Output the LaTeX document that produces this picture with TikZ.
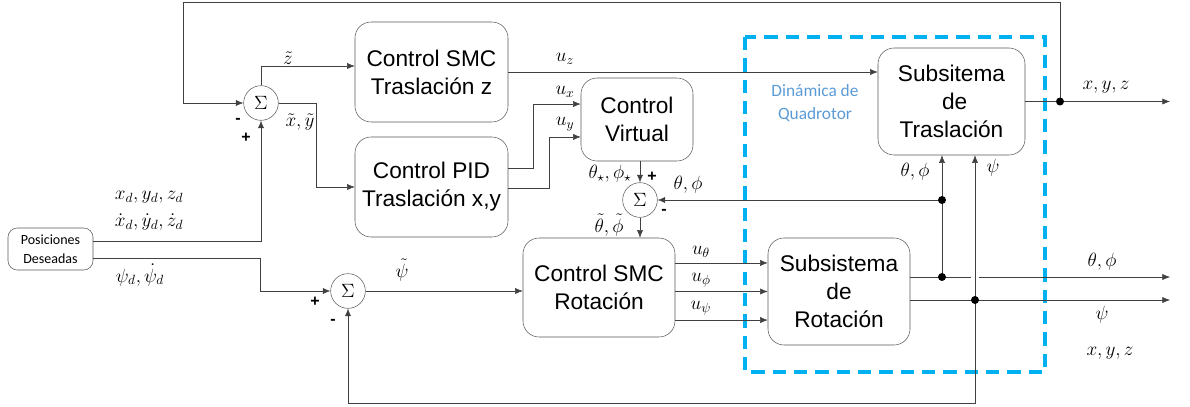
\documentclass[tikz,border=0pt]{standalone}
\usepackage{fontspec}
\newfontfamily\boxfont{Liberation Sans}
\newfontfamily\calfont{Carlito}
\usetikzlibrary{arrows.meta}

\begin{document}
\begin{tikzpicture}[x=0.75pt,y=-0.75pt,
    bloque/.style={draw=black!65,rounded corners=12pt,align=center,
        font=\boxfont\fontsize{17}{21}\selectfont,inner sep=0pt},
    suma/.style={draw=black!65,circle,minimum size=26pt,inner sep=0pt,font=\Large},
    flecha/.style={draw=black!75,-{Latex[length=2mm,width=1.6mm]}},
    etiq/.style={font=\Large,inner sep=1pt},
    signo/.style={font=\boxfont\bfseries\fontsize{12}{12}\selectfont,inner sep=1pt}]
        \definecolor{cyanq}{RGB}{0,176,240}
        \definecolor{azultxt}{RGB}{91,155,213}

        \useasboundingbox (0,0) rectangle (1190,407);

        % dinamica del quadrotor
        \draw[cyanq,line width=3pt,dash pattern=on 10pt off 6pt]
            (745,37) rectangle (1045,372);
        \node[font=\calfont\fontsize{13}{17}\selectfont,text=azultxt,align=center]
            (dq) at (815,103) {Dinámica de\\Quadrotor};

        % bloques
        \node[bloque,minimum width=114.75pt,minimum height=75pt]
            (smcz) at (431.5,72) {Control SMC\\Traslación z};
        \node[bloque,minimum width=114.75pt,minimum height=75pt]
            (pid) at (431.5,187) {Control PID\\Traslación x,y};
        \node[bloque,minimum width=84pt,minimum height=62.25pt]
            (virt) at (637,119.5) {Control\\Virtual};
        \node[bloque,minimum width=114pt,minimum height=74.25pt]
            (smcrot) at (599,287.5) {Control SMC\\Rotación};
        \node[bloque,minimum width=106.5pt,minimum height=80.25pt]
            (subrot) at (839,291.5) {Subsistema\\de\\Rotación};
        \node[bloque,minimum width=110.25pt,minimum height=80.25pt]
            (subtras) at (951.5,101.5) {Subsitema\\\ de\\Traslación};
        \node[bloque,rounded corners=7pt,minimum width=63.75pt,minimum height=31.5pt,
            font=\calfont\fontsize{10.5}{14}\selectfont]
            (pos) at (50.5,249) {Posiciones\\Deseadas};

        % sumadores
        \node[suma] (s1) at (261,103) {$\Sigma$};
        \node[suma] (s2) at (640,200) {$\Sigma$};
        \node[suma] (s3) at (348,291) {$\Sigma$};

        % puntos de union
        \coordinate (esq) at (183,2);
        \coordinate (fondo) at (975,403);
        \coordinate (jxyz) at (1060,101.5);
        \coordinate (oxyz) at (1170,101.5);
        \coordinate (otp) at (1170,277);
        \coordinate (ops) at (1170,300);
        \coordinate (jtp) at (942,277);
        \coordinate (jtp2) at (942,200);
        \coordinate (jps) at (975,300);
        \coordinate (ux) at ([yshift=11.6pt]virt.west);
        \coordinate (uy) at ([yshift=-13.1pt]virt.west);
        \coordinate (uth) at ([yshift=21.4pt]subrot.west);
        \coordinate (ups) at ([yshift=-21.4pt]subrot.west);

        % lazo de traslacion
        \draw[flecha] ([yshift=6pt]pos.east) -| (s1.south);
        \draw[flecha] (s1.north) |- ([yshift=4.5pt]smcz.west);
        \draw[flecha] (s1.east) -- ++(38,0) |- (pid.west);
        \draw[flecha] (smcz.east) -- (smcz.east -| subtras.west);
        \draw[flecha] ([yshift=14.25pt]pid.east) -- ++(25,0) |- (ux);
        \draw[flecha] ([yshift=-0.75pt]pid.east) -- ++(41,0) |- (uy);
        \draw[flecha] (subtras.east) -- (oxyz);
        \draw[flecha] (jxyz) |- (esq) |- (s1.west);

        % lazo de rotacion
        \draw[flecha] ([yshift=-7pt]pos.east) -- ++(167,0) |- (s3.west);
        \draw[flecha] (s3.east) -- (s3.east -| smcrot.west);
        \draw[flecha] (s2.north |- virt.south) -- (s2.north);
        \draw[flecha] (s2.south) -- (s2.south |- smcrot.north);
        \draw[flecha] (uth -| smcrot.east) -- (uth);
        \draw[flecha] (smcrot.east |- subrot.west) -- (subrot.west);
        \draw[flecha] (ups -| smcrot.east) -- (ups);
        \draw[flecha] (otp -| subrot.east) -- (otp);
        \draw[flecha] (ops -| subrot.east) -- (ops);
        \draw[flecha] (jtp) -- (jtp |- subtras.south);
        \draw[flecha] (jtp2) -- (s2.east);
        \draw[flecha,preaction={draw=white,line width=6pt,-,shorten <=9pt,shorten >=12pt}]
            (jps) -- (jps |- subtras.south);
        \draw[flecha] (jps) -- (fondo) -| (s3.south);

        \foreach \p in {jxyz,jtp,jtp2,jps}
            \fill[black] (\p) circle (3pt);

        % etiquetas
        \node[etiq] (lz) at (288,58) {$\tilde{z}$};
        \node[etiq] (lxy) at (300,122) {$\tilde{x},\tilde{y}$};
        \node[etiq] (lpd) at (149,197) {$x_d,y_d,z_d$};
        \node[etiq] (lvd) at (149,222) {$\dot{x}_d,\dot{y}_d,\dot{z}_d$};
        \node[etiq] (lpsid) at (140,275) {$\psi_d,\dot{\psi}_d$};
        \node[etiq] (lpsi) at (402,270) {$\tilde{\psi}$};
        \node[etiq] (luz) at (565,59) {$u_z$};
        \node[etiq] (lux) at (565,92) {$u_x$};
        \node[etiq] (luy) at (565,124) {$u_y$};
        \node[etiq] (ltps) at (610,174) {$\theta_\star,\phi_\star$};
        \node[etiq] (ltpf) at (688,185) {$\theta,\phi$};
        \node[etiq] (ltpt) at (609,225) {$\tilde{\theta},\tilde{\phi}$};
        \node[etiq] (luth) at (701,252) {$u_\theta$};
        \node[etiq] (luph) at (701,280) {$u_\phi$};
        \node[etiq] (lups) at (701,308) {$u_\psi$};
        \node[etiq] (ltpi) at (915,172) {$\theta,\phi$};
        \node[etiq] (lpsii) at (993,168) {$\psi$};
        \node[etiq] (lxyz) at (1106,87) {$x,y,z$};
        \node[etiq] (ltpo) at (1102,262) {$\theta,\phi$};
        \node[etiq] (lpso) at (1102,315) {$\psi$};
        \node[etiq] (lxyz2) at (1110,353) {$x,y,z$};

        % signos
        \node[signo] (m1) at (238,121) {-};
        \node[signo] (p1) at (246,138) {+};
        \node[signo] (p2) at (652,177) {+};
        \node[signo] (m2) at (664,212) {-};
        \node[signo] (p3) at (315,302) {+};
        \node[signo] (m3) at (333,322) {-};
    \end{tikzpicture}
\end{document}
